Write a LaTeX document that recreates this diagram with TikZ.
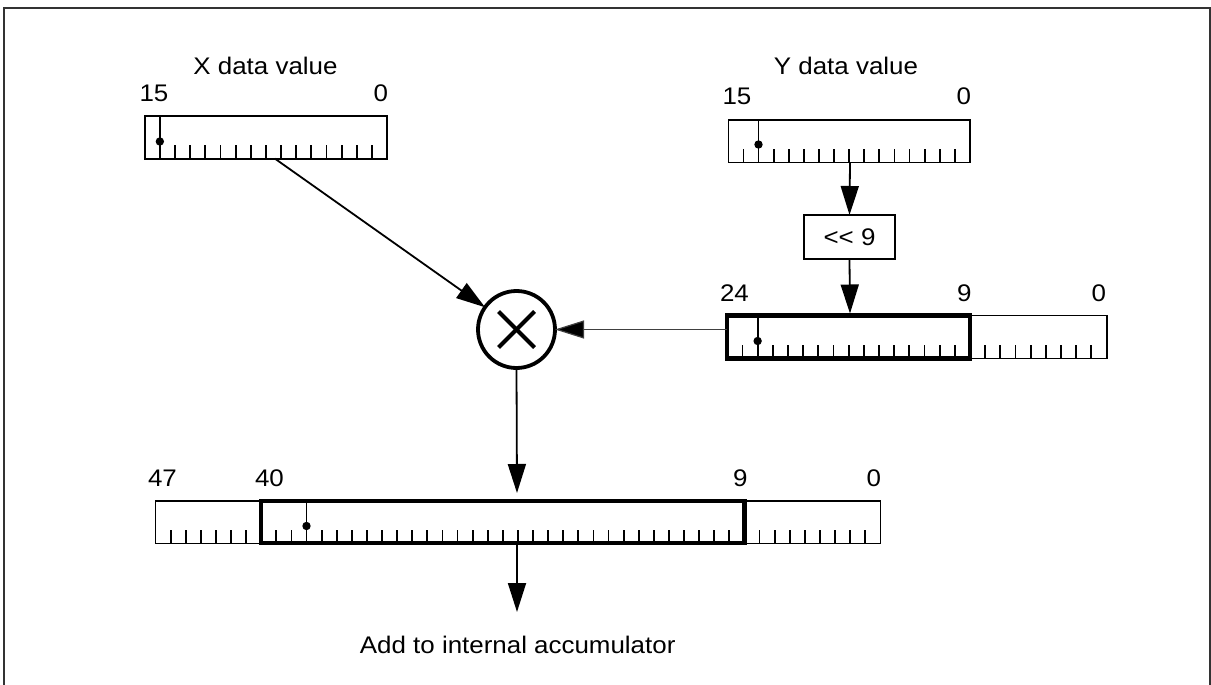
\documentclass[tikz,border=0pt]{standalone}
\usepackage{fontspec}
\setmainfont{Liberation Sans}[FakeStretch=1.08]
\usetikzlibrary{arrows.meta,calc}
\begin{document}
\begin{tikzpicture}[x=1pt,y=-1pt,
  lbl/.style={inner sep=0pt,outer sep=0pt,font=\fontsize{24}{28}\selectfont},
  regbox/.style={draw,line width=1.6pt,inner sep=0pt,outer sep=0pt,anchor=north west},
  thickbox/.style={draw,line width=4.3pt,inner sep=0pt,outer sep=0pt,anchor=north west},
  tick/.style={line width=1.8pt},
  dot/.style={radius=4.2},
  arr/.style={line width=1.8pt,-{Triangle[length=29pt,width=18pt]}},
  thinarr/.style={line width=1.2pt,black!75,-{Triangle[length=29pt,width=18pt,fill=black]}}
]
\useasboundingbox (0,0) rectangle (1211,685);
% frame
\draw[line width=1.8pt,black!80] (4,686) -- (4,8) -- (1210,8) -- (1210,686);

% ---------- X register (16 cells)
\def\xw{15.15}
\node[regbox,minimum width=242.4pt,minimum height=43pt] (xreg) at (144.7,115.7) {};
\foreach \i in {2,...,15}{\draw[tick] ({144.7+\i*\xw},158.7) -- ++(0,-13.5);}
\draw[tick] ({144.7+\xw},158.7) -- ({144.7+\xw},115.7);
\fill ({144.7+\xw},141.5) circle[dot];
\node[lbl,anchor=base] (xt) at (265.5,75) {X data value};
\node[lbl,anchor=base west] (x15) at (139.5,101.7) {15};
\node[lbl,anchor=base east] (x0) at (388,101.7) {0};

% ---------- Y register (16 cells)
\def\yw{15.1}
\node[regbox,minimum width=241.6pt,minimum height=42.3pt] (yreg) at (728.3,120) {};
\foreach \i in {1,3,4,...,15}{\draw[tick] ({728.3+\i*\yw},162.3) -- ++(0,-13.5);}
\draw[tick] ({728.3+2*\yw},162.3) -- ({728.3+2*\yw},120);
\fill ({728.3+2*\yw},144.5) circle[dot];
\node[lbl,anchor=base] (yt) at (846,75) {Y data value};
\node[lbl,anchor=base west] (y15) at (722.5,105) {15};
\node[lbl,anchor=base east] (y0) at (971,105) {0};

% ---------- shift box
\node[draw,line width=1.5pt,minimum width=91pt,minimum height=44pt,inner sep=0pt,outer sep=0pt,
      font=\fontsize{24}{28}\selectfont] (shift) at (849.5,237) {{<}{<} 9};

% ---------- shifted Y register (25 cells, thick 24..9)
\def\mw{15.17}
\node[regbox,minimum width=379.4pt,minimum height=43pt] (mreg) at (727.3,315.5) {};
\foreach \i in {1,3,4,...,15,17,18,...,24}{\draw[tick] ({727.3+\i*\mw},358.5) -- ++(0,-13.5);}
\draw[tick] ({727.3+2*\mw},358.5) -- ({727.3+2*\mw},315.5);
\fill ({727.3+2*\mw},341) circle[dot];
\node[thickbox,minimum width=242.7pt,minimum height=43pt] (mthick) at (727.3,315.5) {};
\node[lbl,anchor=base west] (m24) at (720,301.7) {24};
\node[lbl,anchor=base east] (m9) at (971.5,301.7) {9};
\node[lbl,anchor=base east] (m0) at (1106,301.7) {0};

% ---------- multiplier
\node[circle,draw,line width=3.8pt,minimum size=77pt,inner sep=0pt,outer sep=0pt] (mult) at (516.5,329.5) {};
\draw[line width=4pt] ($(mult)+(-18,-18)$) -- ($(mult)+(18,18)$);
\draw[line width=4pt] ($(mult)+(-18,18)$) -- ($(mult)+(18,-18)$);

% ---------- result register (48 cells, thick 40..9)
\def\rw{15.1}
\node[regbox,minimum width=724.8pt,minimum height=42.3pt] (rreg) at (155.5,501) {};
\foreach \i in {1,...,6,8,9,11,12,...,38,40,41,...,47}{\draw[tick] ({155.5+\i*\rw},543.3) -- ++(0,-13.5);}
\draw[tick] ({155.5+10*\rw},543.3) -- ({155.5+10*\rw},501);
\fill ({155.5+10*\rw},526) circle[dot];
\node[thickbox,minimum width=483.2pt,minimum height=42.3pt] (rthick) at ({155.5+7*\rw},501) {};
\node[lbl,anchor=base west] (r47) at (148,486) {47};
\node[lbl,anchor=base west] (r40) at (255,486) {40};
\node[lbl,anchor=base east] (r9) at (747.5,486) {9};
\node[lbl,anchor=base east] (r0) at (881,486) {0};

\node[lbl,anchor=base] (acc) at (517.7,653) {Add to internal accumulator};

% ---------- connectors
\coordinate (xa) at (275,158.7);
\coordinate (ya) at (850,162.3);
\coordinate (ma) at (850,313.5);
\coordinate (ml) at (727.3,329.5);
\coordinate (ra) at (517,493);
\coordinate (rb) at (517,543.3);
\coordinate (rc) at (517,612);
\draw[arr] (xa) -- (mult);
\draw[arr] (ya) -- (shift.north);
\draw[arr] (shift.south) -- (ma);
\draw[thinarr] (ml) -- (mult);
\draw[arr] (mult.south) -- (ra);
\draw[arr] (rb) -- (rc);
\end{tikzpicture}
\end{document}
